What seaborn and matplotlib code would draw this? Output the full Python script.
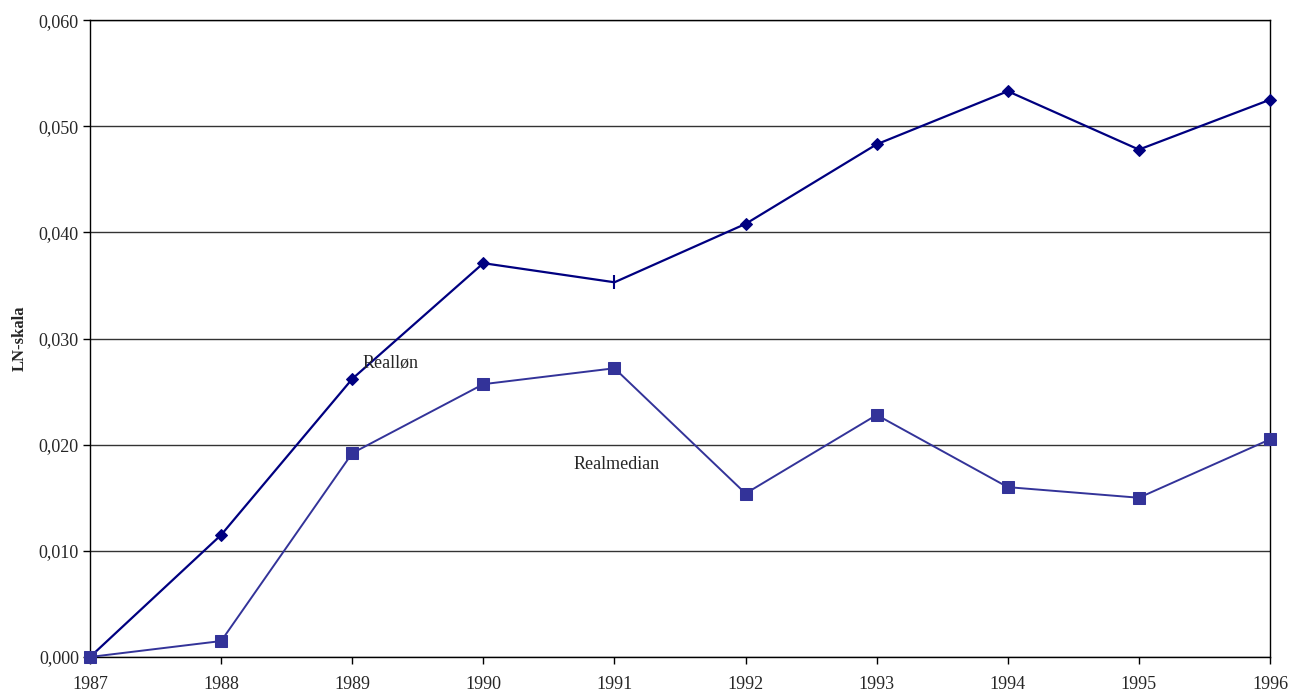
import matplotlib
matplotlib.use("Agg")
import matplotlib.pyplot as plt
import seaborn as sns
import pandas as pd
from matplotlib.ticker import FuncFormatter

years = [1987, 1988, 1989, 1990, 1991, 1992, 1993, 1994, 1995, 1996]
reallon = [0.0, 0.0115, 0.0262, 0.0371, 0.0353, 0.0408, 0.0483, 0.0533, 0.0478, 0.0525]
realmedian = [0.0, 0.0015, 0.0192, 0.0257, 0.0272, 0.0154, 0.0228, 0.0160, 0.0150, 0.0205]

sns.set_style("white")
plt.rcParams['font.family'] = ['Liberation Serif', 'DejaVu Serif']

df = pd.DataFrame({"year": years, "Realløn": reallon, "Realmedian": realmedian})

fig = plt.figure(figsize=(12.9, 6.93), dpi=100)
ax = fig.add_axes([0.0698, 0.052, 0.9147, 0.919])

# Reallon: diamonds, except 1991 which shows as a small vertical tick
diamond_idx = [i for i in range(len(years)) if years[i] != 1991]
sns.lineplot(data=df, x="year", y="Realløn", ax=ax, color="#000080", linewidth=1.6,
             marker="D", markersize=6.5, markevery=diamond_idx, markeredgecolor="#000080",
             clip_on=False, zorder=3)
sns.scatterplot(x=[years[4]], y=[reallon[4]], ax=ax, marker="|", s=90, color="#000080",
                linewidth=1.5, zorder=4)
sns.lineplot(data=df, x="year", y="Realmedian", ax=ax, color="#333399", linewidth=1.4,
             marker="s", markersize=8.5, markeredgecolor="#333399", clip_on=False, zorder=3)

ax.set_xlim(1987, 1996)
ax.set_ylim(0, 0.060)
ax.set_xticks(years)
ax.set_yticks([0.0, 0.01, 0.02, 0.03, 0.04, 0.05, 0.06])
ax.yaxis.set_major_formatter(FuncFormatter(lambda v, p: f"{v:.3f}".replace(".", ",")))
ax.grid(axis="y", color="#333333", linewidth=1.0)
ax.set_axisbelow(True)
for s in ax.spines.values():
    s.set_color("black")
    s.set_linewidth(1.0)
    s.set_visible(True)
ax.tick_params(axis="both", direction="out", length=5, width=1, color="black",
               labelsize=13, pad=3, bottom=True, left=True)
ax.tick_params(axis="x", pad=9)
ax.set_xlabel("")
ax.set_ylabel("LN-skala", fontsize=12, fontweight="bold", labelpad=8)

ax.text(1989.08, 0.0277, "Realløn", fontsize=13, va="center", ha="left")
ax.text(1990.69, 0.0181, "Realmedian", fontsize=13, va="center", ha="left")

fig.savefig("out.png", dpi=100)
